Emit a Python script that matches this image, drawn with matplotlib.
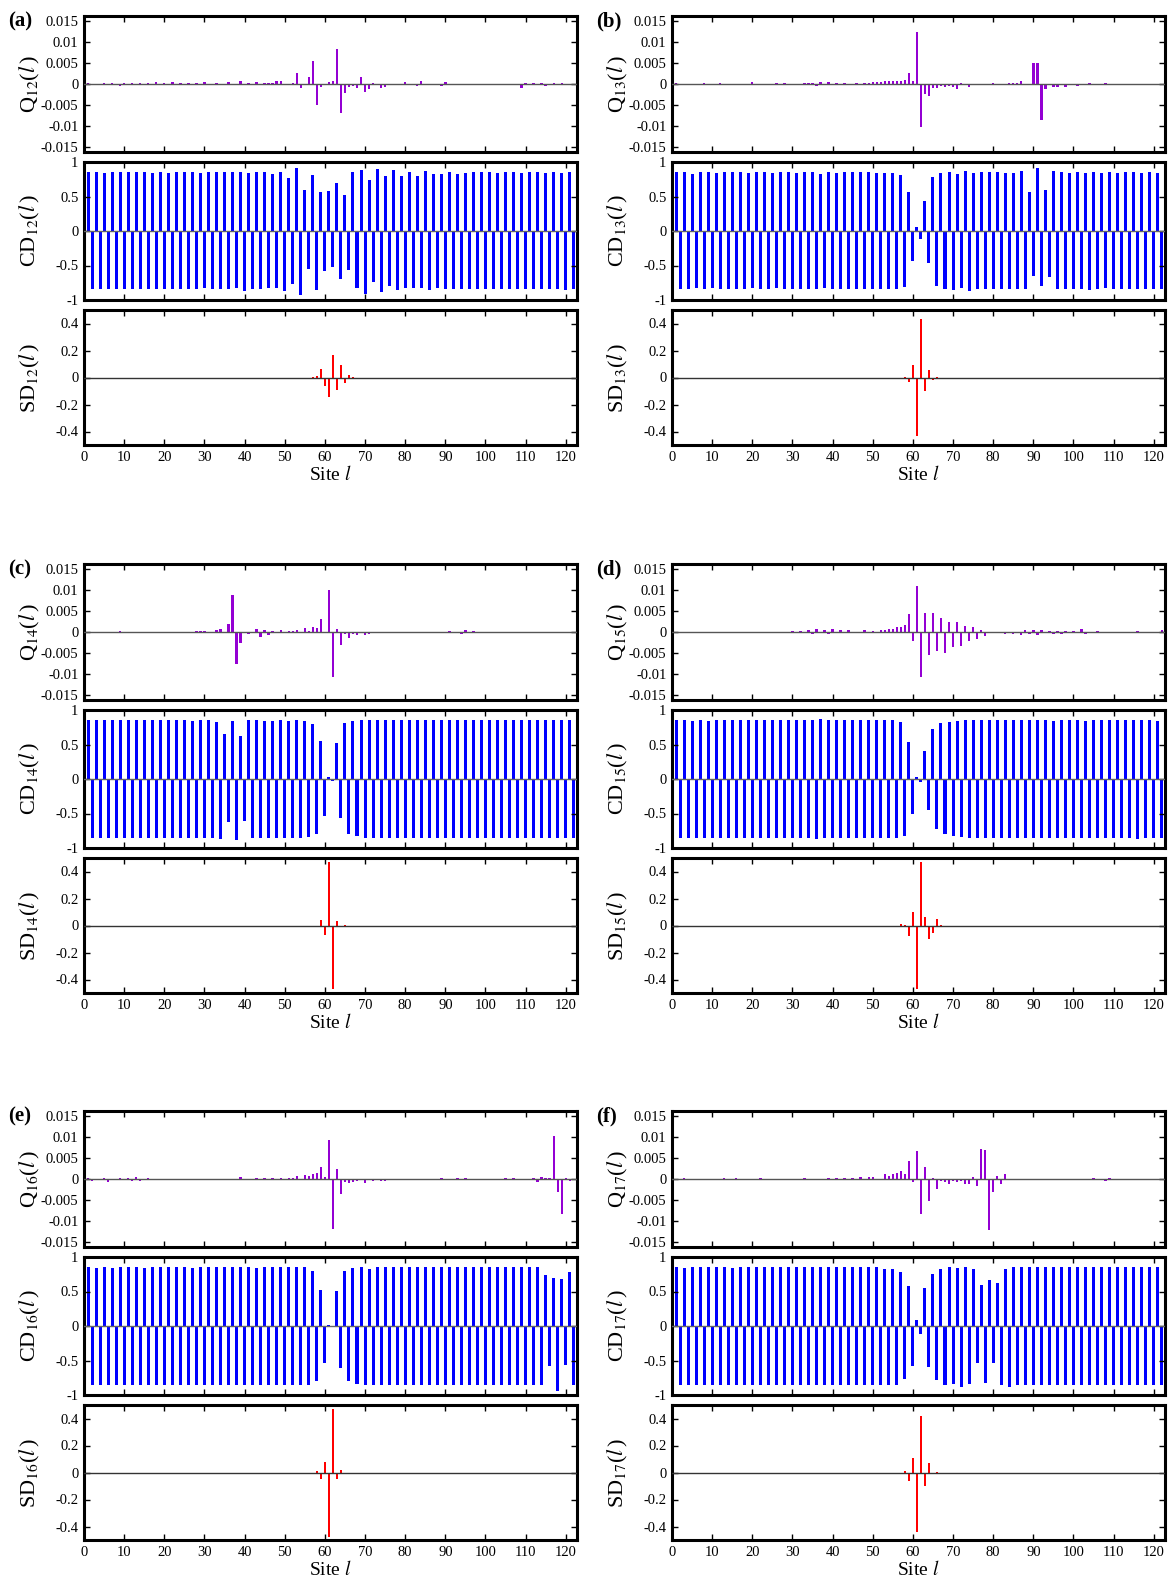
import matplotlib.pyplot as plt
import numpy as np

plt.rcParams['font.family'] = ['Liberation Serif', 'DejaVu Serif']
plt.rcParams['mathtext.fontset'] = 'stix'

sites = np.arange(1, 123)

# Q(l), in units of 1e-3
q12 = [0.2, 0.1, -0.2, 0.1, 0.2, 0.1, 0.2, 0.1, -0.4, 0.2,
       0.1, 0.2, 0.1, 0.2, 0.1, 0.2, 0.1, 0.5, -0.2, 0.2,
       0.1, 0.4, -0.3, 0.2, 0.1, 0.3, 0.1, 0.2, -0.3, 0.5,
       0.1, 0.1, 0.2, -0.2, 0.1, 0.5, 0.1, 0.1, 0.7, 0.1,
       0.3, 0.1, 0.4, 0.1, 0.3, 0.2, 0.3, 0.6, 0.7, 0.1,
       0.1, 0.3, 2.7, -1.0, -0.3, 1.7, 5.5, -5.0, -0.8, 0.1,
       0.4, 0.8, 8.3, -7.0, -2.2, -0.8, -0.4, -1.0, 1.6, -1.8,
       -1.1, 0.2, 0.1, -0.9, -0.6, 0.1, -0.2, -0.3, -0.2, 0.5,
       -0.2, -0.3, -0.5, 0.6, -0.2, -0.3, -0.2, 0.1, -0.4, 0.5,
       -0.2, 0.1, -0.2, -0.1, 0.1, 0.1, 0.1, -0.1, 0.1, 0.1,
       0.1, 0.1, 0.1, 0.1, 0.1, 0.1, 0.1, 0.1, -0.9, 0.3,
       0.1, 0.2, 0.1, 0.3, -0.4, 0.1, 0.3, -0.2, 0.3, 0.1,
       0.1, 0.1]
q13 = [0.2, 0.1, 0.1, 0.1, 0.1, -0.2, -0.3, 0.3, -0.3, 0.1,
       0.1, 0.2, 0.1, 0.1, 0.1, 0.1, 0.1, 0.1, -0.3, 0.4,
       0.1, 0.1, 0.1, -0.3, 0.1, 0.2, 0.1, 0.2, 0.1, 0.1,
       0.1, 0.1, 0.2, 0.2, 0.2, -0.4, 0.4, 0.1, 0.4, -0.3,
       0.2, 0.1, 0.2, 0.1, 0.1, 0.2, 0.1, 0.3, 0.3, 0.4,
       0.4, 0.5, 0.6, 0.6, 0.6, 0.7, 0.7, 0.9, 2.7, 0.6,
       12.4, -10.4, -2.4, -2.8, -0.9, -1.0, -0.5, -0.8, -0.5, -0.6,
       -1.1, 0.2, 0.1, -0.6, -0.3, 0.1, 0.1, 0.1, 0.1, 0.2,
       0.1, 0.1, 0.1, 0.2, 0.2, 0.2, 0.6, 0.1, -0.3, 5.1,
       5.1, -8.6, -1.3, 0.1, -0.6, -0.6, 0.1, -0.7, 0.1, 0.1,
       -0.5, 0.1, 0.1, 0.2, -0.3, 0.1, 0.1, 0.2, 0.1, -0.2,
       0.1, -0.2, 0.1, 0.1, -0.2, 0.1, -0.2, 0.1, 0.1, 0.1,
       0.1, 0.1]
q14 = [0.1, 0.1, 0.1, -0.2, 0.1, 0.1, 0.1, 0.1, 0.2, 0.1,
       0.1, 0.1, 0.1, 0.1, 0.1, 0.1, 0.1, 0.1, 0.1, 0.1,
       0.1, 0.1, 0.1, 0.1, 0.1, 0.1, 0.1, 0.3, 0.2, 0.3,
       0.1, 0.1, 0.4, 0.6, 0.1, 2.0, 8.9, -7.6, -2.7, -0.2,
       -0.4, -0.3, 0.7, -1.1, 0.4, -0.7, 0.2, 0.1, 0.4, -0.2,
       0.2, 0.2, 0.4, 0.1, 1.0, 0.3, 1.2, 1.0, 3.1, -0.2,
       10.0, -10.8, 0.7, -3.0, -0.4, -1.4, -0.5, -0.7, -0.2, -0.8,
       -0.4, -0.3, -0.2, -0.2, -0.2, -0.1, -0.2, -0.3, 0.1, 0.1,
       0.1, 0.1, 0.1, 0.1, 0.1, 0.1, 0.1, 0.1, 0.1, 0.1,
       0.2, 0.1, 0.1, -0.4, 0.4, -0.3, 0.2, 0.1, 0.1, 0.1,
       0.1, 0.1, 0.1, 0.1, 0.1, 0.1, 0.1, 0.1, 0.1, 0.1,
       0.1, 0.1, 0.1, 0.1, 0.1, 0.1, 0.1, 0.1, 0.1, 0.1,
       0.1, 0.1]
q15 = [0.1, 0.1, 0.1, 0.1, 0.1, -0.2, 0.1, 0.1, 0.1, 0.1,
       0.1, 0.1, 0.1, 0.1, 0.1, 0.1, 0.1, 0.1, 0.1, 0.1,
       0.1, 0.1, 0.1, 0.1, 0.1, 0.1, 0.1, 0.1, -0.1, 0.2,
       -0.2, 0.3, -0.2, 0.5, -0.4, 0.7, -0.3, 0.4, -0.4, 0.6,
       -0.3, 0.5, -0.2, 0.5, -0.1, 0.1, 0.1, 0.4, 0.1, 0.3,
       0.1, 0.4, 0.4, 0.6, 0.8, 1.2, 1.1, 1.7, 4.2, -2.2,
       11.1, -10.8, 4.6, -5.6, 4.6, -4.5, 3.3, -5.0, 2.5, -3.7,
       2.4, -3.3, 1.4, -2.1, 1.2, -1.7, 0.4, -0.9, 0.1, 0.1,
       -0.2, -0.3, -0.4, 0.1, -0.4, 0.1, -0.6, 0.4, -0.5, 0.4,
       -0.6, 0.5, -0.2, 0.2, -0.4, 0.3, -0.4, 0.2, 0.1, 0.2,
       0.1, 0.6, -0.4, 0.1, 0.1, 0.3, 0.1, 0.1, 0.1, 0.1,
       0.1, 0.1, 0.1, 0.1, 0.1, 0.3, 0.1, 0.1, 0.1, 0.1,
       0.1, 0.4]
q16 = [0.3, -0.5, 0.1, -0.3, 0.2, -0.6, 0.1, -0.2, 0.3, -0.2,
       0.3, -0.4, 0.5, -0.4, -0.1, 0.2, 0.1, 0.1, 0.1, 0.1,
       0.1, 0.1, 0.1, 0.1, 0.1, -0.2, 0.1, 0.1, 0.1, 0.1,
       0.1, 0.1, 0.1, 0.1, 0.1, 0.1, 0.1, -0.1, 0.5, 0.1,
       0.1, -0.2, 0.3, 0.1, 0.3, 0.1, 0.2, 0.1, 0.2, 0.1,
       0.3, 0.2, 0.7, 0.1, 0.9, 0.8, 1.1, 1.5, 2.9, 0.5,
       9.3, -11.9, 2.3, -3.7, -0.8, -1.0, -0.7, -0.4, 0.1, -0.9,
       -0.2, -0.4, 0.1, -0.5, -0.4, 0.1, 0.1, -0.3, 0.1, 0.1,
       0.1, 0.1, 0.1, 0.1, 0.1, 0.1, 0.1, 0.1, 0.3, -0.3,
       0.1, -0.3, 0.2, 0.1, 0.3, -0.3, 0.1, 0.1, 0.1, 0.1,
       0.1, 0.1, 0.1, 0.1, 0.2, 0.1, 0.2, 0.1, 0.1, 0.1,
       0.1, 0.2, -0.7, 0.5, 0.3, 0.3, 10.4, -3.1, -8.4, 0.3,
       -0.4, 0.1]
q17 = [0.1, -0.3, 0.2, 0.1, 0.1, 0.1, 0.1, 0.1, -0.2, 0.1,
       0.1, 0.1, 0.2, -0.2, 0.1, 0.2, 0.1, 0.1, 0.1, 0.1,
       0.1, 0.2, 0.1, 0.1, 0.1, 0.1, 0.1, 0.1, 0.1, 0.1,
       -0.2, 0.1, 0.2, 0.1, 0.1, 0.1, 0.1, 0.1, 0.2, 0.1,
       0.2, 0.1, 0.2, -0.2, 0.2, 0.1, 0.4, 0.1, 0.5, 0.5,
       0.1, 0.1, 1.2, 0.8, 1.1, 1.4, 2.0, 1.1, 4.2, -0.7,
       6.7, -8.5, 2.8, -5.3, 0.3, -2.3, -0.4, -0.8, -1.1, -0.5,
       -0.6, -0.5, -1.1, -1.1, 0.4, -1.6, 7.2, 7.0, -12.2, -3.0,
       0.8, -1.1, 1.2, 0.1, 0.1, 0.1, -0.3, -0.3, 0.1, 0.1,
       0.1, 0.1, 0.1, -0.2, 0.1, 0.1, -0.3, 0.1, 0.1, 0.1,
       0.1, 0.1, 0.1, 0.1, 0.2, 0.1, 0.1, -0.4, 0.2, 0.1,
       0.1, 0.1, 0.1, 0.1, 0.1, 0.1, 0.1, 0.1, 0.1, 0.1,
       0.1, 0.1]

# CD(l)
cd12 = [.85, -.84, .85, -.84, .84, -.84, .85, -.84, .85, -.84,
        .85, -.84, .85, -.84, .85, -.84, .84, -.84, .86, -.84,
        .84, -.84, .86, -.84, .85, -.84, .85, -.84, .84, -.83,
        .85, -.84, .85, -.84, .85, -.84, .85, -.83, .85, -.87,
        .84, -.84, .85, -.84, .85, -.83, .82, -.82, .86, -.87,
        .77, -.77, .91, -.93, .60, -.55, .81, -.85, .57, -.58,
        .58, -.52, .69, -.70, .52, -.56, .86, -.83, .89, -.91,
        .74, -.74, .90, -.89, .79, -.80, .88, -.85, .80, -.82,
        .86, -.83, .80, -.82, .87, -.85, .82, -.83, .83, -.84,
        .86, -.84, .82, -.84, .84, -.84, .85, -.84, .85, -.84,
        .85, -.84, .84, -.84, .85, -.84, .85, -.84, .84, -.84,
        .85, -.84, .85, -.84, .84, -.84, .85, -.84, .84, -.85,
        .85, -.84]
cd13 = [.85, -.84, .85, -.84, .83, -.83, .85, -.84, .85, -.83,
        .84, -.84, .85, -.84, .85, -.84, .85, -.84, .84, -.83,
        .86, -.84, .85, -.84, .84, -.83, .85, -.84, .85, -.84,
        .84, -.84, .85, -.84, .85, -.84, .83, -.83, .85, -.84,
        .84, -.84, .85, -.84, .85, -.84, .85, -.84, .85, -.84,
        .84, -.84, .84, -.84, .84, -.84, .81, -.81, .56, -.44,
        .06, -.12, .43, -.46, .78, -.80, .84, -.84, .86, -.86,
        .83, -.82, .87, -.87, .84, -.84, .85, -.84, .85, -.84,
        .85, -.84, .84, -.84, .84, -.84, .87, -.84, .56, -.65,
        .92, -.79, .59, -.67, .87, -.84, .85, -.84, .84, -.84,
        .85, -.84, .84, -.85, .85, -.84, .84, -.83, .85, -.84,
        .84, -.84, .85, -.84, .85, -.84, .84, -.84, .85, -.84,
        .84, -.84]
cd14 = [.85, -.85, .85, -.85, .85, -.85, .85, -.86, .86, -.85,
        .86, -.85, .85, -.85, .85, -.85, .85, -.85, .85, -.86,
        .85, -.85, .85, -.85, .85, -.85, .84, -.85, .85, -.85,
        .85, -.85, .83, -.87, .65, -.62, .84, -.88, .63, -.61,
        .85, -.85, .86, -.85, .84, -.85, .84, -.85, .86, -.85,
        .84, -.85, .85, -.85, .84, -.84, .80, -.80, .55, -.53,
        .03, -.03, .52, -.56, .81, -.80, .84, -.82, .85, -.86,
        .85, -.85, .85, -.85, .85, -.85, .85, -.85, .85, -.85,
        .85, -.85, .85, -.85, .85, -.85, .85, -.85, .85, -.85,
        .85, -.85, .85, -.85, .85, -.85, .85, -.85, .85, -.85,
        .85, -.85, .85, -.85, .85, -.85, .85, -.85, .85, -.85,
        .85, -.85, .85, -.85, .85, -.85, .85, -.85, .85, -.85,
        .85, -.85]
cd15 = [.85, -.86, .85, -.86, .84, -.86, .85, -.86, .84, -.86,
        .86, -.86, .85, -.86, .85, -.86, .85, -.86, .85, -.86,
        .85, -.86, .85, -.86, .85, -.86, .85, -.86, .85, -.86,
        .85, -.86, .85, -.86, .86, -.87, .87, -.86, .85, -.86,
        .86, -.86, .85, -.86, .85, -.86, .85, -.86, .85, -.86,
        .85, -.86, .85, -.86, .86, -.86, .82, -.82, .54, -.51,
        .025, -.045, .405, -.455, .72, -.72, .81, -.80, .83, -.82,
        .84, -.835, .85, -.85, .85, -.86, .85, -.86, .85, -.86,
        .86, -.86, .85, -.86, .85, -.86, .85, -.86, .85, -.86,
        .85, -.86, .85, -.86, .84, -.86, .85, -.86, .85, -.86,
        .86, -.86, .84, -.86, .86, -.86, .85, -.86, .85, -.86,
        .85, -.86, .85, -.86, .85, -.87, .85, -.86, .85, -.86,
        .84, -.86]
cd16 = [.85, -.86, .84, -.86, .85, -.86, .84, -.86, .85, -.86,
        .85, -.86, .85, -.86, .84, -.86, .86, -.86, .85, -.86,
        .85, -.86, .85, -.86, .85, -.86, .84, -.86, .85, -.86,
        .85, -.86, .85, -.86, .85, -.86, .85, -.86, .85, -.86,
        .85, -.86, .84, -.86, .85, -.86, .85, -.86, .85, -.86,
        .85, -.86, .85, -.86, .85, -.86, .79, -.80, .525, -.535,
        .02, -.01, .505, -.61, .79, -.795, .84, -.84, .86, -.86,
        .83, -.86, .85, -.86, .85, -.86, .85, -.86, .85, -.86,
        .85, -.86, .85, -.86, .85, -.86, .85, -.86, .85, -.86,
        .85, -.86, .85, -.86, .85, -.86, .85, -.86, .85, -.86,
        .85, -.86, .85, -.86, .85, -.86, .85, -.86, .85, -.86,
        .85, -.86, .85, -.86, .74, -.575, .70, -.94, .675, -.56,
        .78, -.86]
cd17 = [.85, -.86, .84, -.86, .85, -.86, .85, -.86, .85, -.86,
        .85, -.86, .85, -.86, .84, -.86, .85, -.86, .85, -.86,
        .86, -.86, .85, -.86, .85, -.86, .85, -.86, .85, -.86,
        .85, -.86, .85, -.86, .85, -.86, .85, -.86, .85, -.86,
        .85, -.86, .85, -.86, .85, -.86, .85, -.86, .85, -.86,
        .85, -.86, .83, -.86, .83, -.85, .78, -.77, .58, -.585,
        .094, -.12, .545, -.60, .75, -.78, .83, -.85, .85, -.84,
        .84, -.88, .85, -.84, .83, -.54, .60, -.83, .66, -.535,
        .62, -.86, .83, -.88, .86, -.86, .86, -.86, .85, -.86,
        .85, -.86, .85, -.86, .85, -.86, .85, -.86, .85, -.86,
        .85, -.86, .85, -.86, .85, -.86, .85, -.86, .85, -.86,
        .85, -.86, .85, -.86, .85, -.86, .85, -.86, .85, -.86,
        .85, -.86]

# SD(l), nonzero only near the centre
sd_sites = [56, 57, 58, 59, 60, 61, 62, 63, 64, 65, 66, 67]
sd12 = [0.0, 0.003, 0.012, 0.064, -0.064, -0.148, 0.17, -0.094, 0.091, -0.044, 0.022, 0.003]
sd13 = [0.0, 0.0, 0.003, -0.035, 0.092, -0.435, 0.435, -0.10, 0.055, -0.015, 0.005, 0.0]
sd14 = [0.0, 0.0, -0.005, 0.04, -0.07, 0.47, -0.47, 0.037, -0.008, 0.005, 0.0, 0.0]
sd15 = [0.0, 0.01, 0.002, -0.075, 0.10, -0.47, 0.47, 0.065, -0.10, -0.055, 0.045, 0.005]
sd16 = [0.0, 0.0, 0.01, -0.05, 0.08, -0.48, 0.47, -0.05, 0.015, -0.005, 0.0, 0.0]
sd17 = [0.0, 0.0, 0.01, -0.065, 0.108, -0.44, 0.42, -0.10, 0.07, -0.012, 0.004, 0.0]

panels = [('(a)', '12', q12, cd12, sd12), ('(b)', '13', q13, cd13, sd13),
          ('(c)', '14', q14, cd14, sd14), ('(d)', '15', q15, cd15, sd15),
          ('(e)', '16', q16, cd16, sd16), ('(f)', '17', q17, cd17, sd17)]

W, H = 1170, 1582
fig = plt.figure(figsize=(W / 100, H / 100), dpi=100)

row_tops = [16, 564, 1111]
col_lefts = [84, 672]
ax_w = 493
ylab_x = -0.085


def make_ax(left, top, h):
    ax = fig.add_axes([left / W, 1 - (top + h) / H, ax_w / W, h / H])
    for s in ax.spines.values():
        s.set_linewidth(2.2)
    ax.tick_params(direction='in', top=True, right=True, length=4, width=1,
                   labelsize=10.5, pad=4)
    ax.set_xlim(0, 122.8)
    ax.set_xticks(range(0, 121, 10))
    return ax


for i, (tag, sub, q, cd, sd) in enumerate(panels):
    left = col_lefts[i % 2]
    top = row_tops[i // 2]

    fig.text((left - 76) / W, 1 - (top + 5) / H, tag, fontsize=15,
             fontweight='bold', ha='left', va='center')

    # Q
    ax = make_ax(left, top, 136)
    ax.bar(sites, np.array(q) * 1e-3, width=0.6, color='#9400D3', linewidth=0)
    ax.axhline(0, color='#555555', lw=1.0, zorder=3)
    ax.set_ylim(-0.0163, 0.0163)
    ax.set_yticks([0.015, 0.01, 0.005, 0, -0.005, -0.01, -0.015])
    ax.set_yticklabels(['0.015', '0.01', '0.005', '0', '-0.005', '-0.01', '-0.015'])
    ax.set_xticklabels([])
    ax.set_ylabel(r'Q$_{%s}$($l\,$)' % sub, fontsize=16)
    ax.yaxis.set_label_coords(ylab_x, 0.5)

    # CD
    ax = make_ax(left, top + 146, 138)
    ax.bar(sites, cd, width=0.75, color='#0000FF', linewidth=0)
    ax.axhline(0, color='#666666', lw=1.0, zorder=3)
    ax.set_ylim(-1, 1)
    ax.set_yticks([1, 0.5, 0, -0.5, -1])
    ax.set_yticklabels(['1', '0.5', '0', '-0.5', '-1'])
    ax.set_xticklabels([])
    ax.set_ylabel(r'CD$_{%s}$($l\,$)' % sub, fontsize=16)
    ax.yaxis.set_label_coords(ylab_x, 0.5)

    # SD
    ax = make_ax(left, top + 294, 135)
    ax.bar(sd_sites, sd, width=0.6, color='#FF0000', linewidth=0)
    ax.axhline(0, color='#333333', lw=1.0, zorder=3)
    ax.set_ylim(-0.5, 0.5)
    ax.set_yticks([0.4, 0.2, 0, -0.2, -0.4])
    ax.set_yticklabels(['0.4', '0.2', '0', '-0.2', '-0.4'])
    ax.set_ylabel(r'SD$_{%s}$($l\,$)' % sub, fontsize=16)
    ax.yaxis.set_label_coords(ylab_x, 0.5)
    ax.set_xlabel(r'Site $l$', fontsize=14, labelpad=1)

fig.savefig('out.png', dpi=100)
